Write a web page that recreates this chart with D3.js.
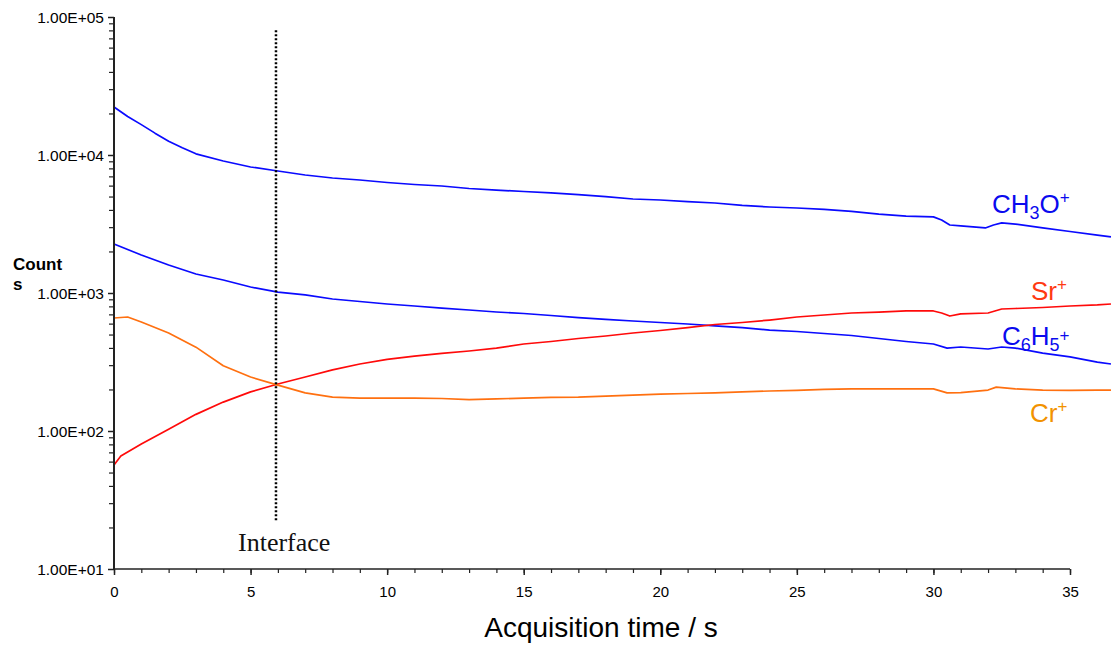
<!DOCTYPE html>
<html>
<head>
<meta charset="utf-8">
<script src="https://cdn.jsdelivr.net/npm/d3@7"></script>
<style>
  html, body { margin: 0; padding: 0; background: #fff; }
  svg { display: block; }
</style>
</head>
<body>
<svg id="chart" width="1116" height="648"></svg>
<script>
// ---- data ----
const ch3oTimes = [0,0.5,1,1.5,2,2.5,3,4,5,6,7,8,9,10,11,12,13,14,15,16,17,18,19,20,21,22,23,24,25,26,27,28,29,30,30.3,30.6,31,31.9,32.2,32.5,33,34,35,36,36.5];
const ch3oValues = [22300,19000,16600,14400,12600,11300,10200,9050,8190,7660,7160,6810,6590,6320,6110,5960,5720,5570,5440,5310,5170,5000,4800,4720,4600,4490,4310,4200,4130,4030,3900,3730,3610,3560,3380,3110,3060,2960,3110,3220,3160,2960,2790,2630,2550];

const c6h5Times = [0,1,2,3,4,5,6,7,8,9,10,11,12,13,14,15,16,17,18,19,20,21,22,23,24,25,26,27,28,29,30,30.5,31,32,32.5,33,34,35,36,36.5];
const c6h5Values = [2265,1885,1596,1374,1242,1105,1016,968,905,868,832,805,778,753,728,710,687,664,643,627,611,596,577,562,539,526,509,492,468,445,427,399,406,393,406,399,367,344,316,306];

const srTimes = [0,0.25,1,2,3,4,5,6,7,8,9,10,11,12,13,14,15,16,17,18,19,20,21,22,23,24,25,26,27,28,29,30,30.3,30.6,31,32,32.5,33,34,35,36,36.5];
const srValues = [56.7,65.9,80.5,103,132,162,192,219,246,277,306,330,349,365,380,399,427,445,468,488,513,535,562,591,611,637,670,693,716,728,741,741,716,681,705,716,766,772,785,805,819,832];

const crTimes = [0,0.5,1,2,3,4,5,6,7,8,9,10,11,12,13,14,15,16,17,18,19,20,21,22,23,24,25,26,27,28,29,30,30.5,31,32,32.3,33,34,35,36,36.5];
const crValues = [659,670,616,513,405,297,246,215,189,176,173,173,173,172,169,171,173,175,176,179,182,185,187,189,192,195,197,200,202,202,202,202,189,190,198,208,202,198,197,198,198];

const interfaceTime = 5.93;
const xTicksMajor = [0,5,10,15,20,25,30,35];
const yDecades = [10,100,1000,10000,100000];
const yTickLabels = ["1.00E+01","1.00E+02","1.00E+03","1.00E+04","1.00E+05"];

const SANS = "'Liberation Sans', Arial, Helvetica, sans-serif";
const SERIF = "'Liberation Serif', 'Times New Roman', serif";

// ---- scales ----
const svg = d3.select("#chart");
const x = d3.scaleLinear().domain([0, 35]).range([114, 1070]);
const y = d3.scaleLog().domain([10, 100000]).range([569, 17]);

// ---- lines ----
const line = d3.line().x(d => x(d[0])).y(d => y(d[1]));
const series = [
  {t: ch3oTimes, v: ch3oValues, color: "#0a0aff"},
  {t: c6h5Times, v: c6h5Values, color: "#0a0aff"},
  {t: srTimes, v: srValues, color: "#ff0a0a"},
  {t: crTimes, v: crValues, color: "#ff7010"}
];
series.forEach(s => {
  svg.append("path")
    .datum(s.t.map((t, i) => [t, s.v[i]]))
    .attr("fill", "none")
    .attr("stroke", s.color)
    .attr("stroke-width", 1.7)
    .attr("stroke-linejoin", "round")
    .attr("d", line);
});

// ---- y axis ----
const minorY = [];
for (let d = 1; d <= 4; d++) for (let m = 2; m <= 9; m++) minorY.push(m * Math.pow(10, d));
const gyMinor = svg.append("g").attr("transform", "translate(114,0)")
  .call(d3.axisLeft(y).tickValues(minorY).tickSize(5).tickFormat(""));
gyMinor.select(".domain").remove();
gyMinor.selectAll("line").attr("stroke", "#222").attr("stroke-width", 1.2);

const gy = svg.append("g").attr("transform", "translate(114,0)")
  .call(d3.axisLeft(y).tickValues(yDecades).tickSize(6).tickPadding(4)
    .tickFormat((d, i) => yTickLabels[i]));
gy.select(".domain").attr("stroke", "#222").attr("stroke-width", 2).attr("d", "M0,17V569");
gy.selectAll("line").attr("stroke", "#222").attr("stroke-width", 1.5);
gy.selectAll("text").style("font-size", "15.5px").style("font-family", SANS).attr("fill", "#000")
  .attr("dy", "0.36em");

// ---- x axis ----
const gxMinor = svg.append("g").attr("transform", "translate(0,569)")
  .call(d3.axisBottom(x).tickValues(d3.range(0, 36, 1)).tickSize(4).tickFormat(""));
gxMinor.select(".domain").remove();
gxMinor.selectAll("line").attr("stroke", "#222").attr("stroke-width", 1.2);

const gx = svg.append("g").attr("transform", "translate(0,569)")
  .call(d3.axisBottom(x).tickValues(xTicksMajor).tickSize(6).tickPadding(11).tickFormat(d3.format("d")));
gx.select(".domain").attr("stroke", "#222").attr("stroke-width", 1.6).attr("d", "M114,0H1070");
gx.selectAll("line").attr("stroke", "#222").attr("stroke-width", 1.5);
gx.selectAll("text").style("font-size", "15px").style("font-family", SANS).attr("fill", "#000");

// ---- axis titles ----
svg.append("text").attr("x", 601).attr("y", 637).attr("text-anchor", "middle")
  .style("font-family", SANS).style("font-size", "28px").attr("fill", "#000").text("Acquisition time / s");
svg.append("text").attr("x", 13).attr("y", 270)
  .style("font-family", SANS).style("font-size", "17px").style("font-weight", "bold")
  .attr("fill", "#000").text("Count");
svg.append("text").attr("x", 13).attr("y", 290)
  .style("font-family", SANS).style("font-size", "17px").style("font-weight", "bold")
  .attr("fill", "#000").text("s");

// ---- interface marker ----
svg.append("line")
  .attr("x1", x(interfaceTime)).attr("x2", x(interfaceTime))
  .attr("y1", y(80000)).attr("y2", y(22.5))
  .attr("stroke", "#000").attr("stroke-width", 2.5).attr("stroke-dasharray", "2,2");
svg.append("text").attr("x", 238).attr("y", 551)
  .style("font-family", SERIF).style("font-size", "26px").attr("fill", "#111").text("Interface");

// ---- series labels ----
function label(xp, yp, color, parts) {
  const t = svg.append("text").attr("x", xp).attr("y", yp)
    .style("font-family", SANS).style("font-size", "26px").attr("fill", color);
  parts.forEach(p => {
    const ts = t.append("tspan").text(p.s);
    if (p.sub) ts.style("font-size", "18px").attr("dy", 6);
    if (p.sup) ts.style("font-size", "17px").attr("dy", -10);
    if (p.reset) ts.attr("dy", p.reset);
  });
}
label(992, 213, "#0a0aee", [{s: "CH"}, {s: "3", sub: true}, {s: "O", reset: -6}, {s: "+", sup: true}]);
label(1031, 300, "#ff3a12", [{s: "Sr"}, {s: "+", sup: true}]);
label(1002, 345, "#0a0aee", [{s: "C"}, {s: "6", sub: true}, {s: "H", reset: -6}, {s: "5", sub: true}, {s: "+", sup: true}]);
label(1030, 422, "#f29200", [{s: "Cr"}, {s: "+", sup: true}]);
</script>
</body>
</html>
